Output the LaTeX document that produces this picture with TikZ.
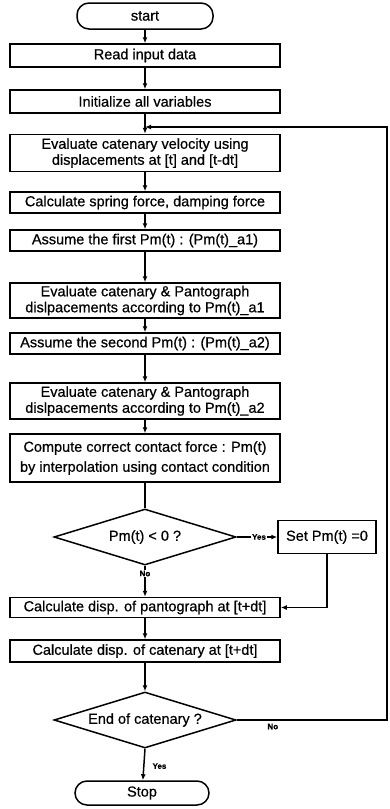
\documentclass[tikz,border=0pt]{standalone}
\usepackage{fontspec}
\setmainfont{Liberation Sans}
\newfontfamily\chartfont[FakeBold=0.6]{Liberation Sans}
\usetikzlibrary{arrows.meta,shapes.geometric}

\begin{document}
\begin{tikzpicture}[x=1pt, y=-1pt, line width=1.5pt, >={Latex[length=6pt,width=5pt]},
	every node/.style={font=\chartfont\fontsize{14.5}{16}\selectfont},
	procbox/.style={draw, minimum width=270, inner sep=1pt, align=center},
	termbox/.style={draw, rounded corners=12pt, minimum width=136, minimum height=26},
	decbox/.style={draw, diamond, aspect=3.3, inner sep=0pt, minimum width=182, minimum height=56},
	tag/.style={font=\chartfont\fontsize{8}{9}\selectfont\bfseries, inner sep=1pt}]
	\useasboundingbox (0,0) rectangle (389,809);
	% main column
	\node[termbox] (start) at (145,16) {start};
	\node[procbox, minimum height=23] (read) at (145,55.5) {Read input data};
	\node[procbox, minimum height=23] (init) at (145,101.5) {Initialize all variables};
	\node[procbox, minimum height=37] (evalv) at (145,153) {Evaluate catenary velocity using\\displacements at [t] and [t-dt]};
	\node[procbox, minimum height=21] (spring) at (145,202.5) {Calculate spring force, damping force};
	\node[procbox, minimum height=21] (assumeA) at (145,240.5) {Assume the first Pm(t) : (Pm(t)\_a1)};
	\node[procbox, minimum height=35] (evalA) at (145,300.5) {Evaluate catenary \& Pantograph\\dislpacements according to Pm(t)\_a1};
	\node[procbox, minimum height=21] (assumeB) at (145,343.5) {Assume the second Pm(t) : (Pm(t)\_a2)};
	\node[procbox, minimum height=36] (evalB) at (145,401) {Evaluate catenary \& Pantograph\\dislpacements according to Pm(t)\_a2};
	\node[procbox, minimum height=48] (compute) at (145,458) {Compute correct contact force : Pm(t)\\[4pt]by interpolation using contact condition};
	\node[decbox] (negtest) at (145,537) {Pm(t) < 0 ?};
	\node[draw, minimum width=98, minimum height=33, inner sep=1pt] (setzero) at (327,537) {Set Pm(t) =0};
	\node[procbox, minimum height=20] (dispP) at (145,607.5) {Calculate disp. of pantograph at [t+dt]};
	\node[procbox, minimum height=22] (dispC) at (145,651) {Calculate disp. of catenary at [t+dt]};
	\node[decbox] (endtest) at (145,720) {End of catenary ?};
	\node[termbox, minimum width=134, minimum height=24] (stop) at (142,793) {Stop};
	% loop corners
	\coordinate (join) at (145,127);
	\coordinate (rtop) at (387,127);
	\coordinate (rbot) at (387,720);
	% connectors
	\draw[->] (start) -- (read);
	\draw[->] (read) -- (init);
	\draw[->] (init) -- (evalv);
	\draw[->] (evalv) -- (spring);
	\draw[->] (spring) -- (assumeA);
	\draw[->] (assumeA) -- (evalA);
	\draw[->] (evalA) -- (assumeB);
	\draw[->] (assumeB) -- (evalB);
	\draw[->] (evalB) -- (compute);
	\draw (compute) -- (negtest);
	\draw[->] (negtest.east) -- node[tag, fill=white, pos=0.55] {Yes} (setzero);
	\draw[->] (negtest.south) -- node[tag, fill=white, pos=0.25] {No} (dispP);
	\draw[->] (setzero.south) |- (dispP.east);
	\draw[->] (dispP) -- (dispC);
	\draw[->] (dispC) -- (endtest);
	\draw[->] (endtest.south) -- node[tag, right, pos=0.55, xshift=7] {Yes} (stop);
	\draw[->] (endtest.east) -- node[tag, below, pos=0.24, yshift=-2] {No} (rbot) -- (rtop) -- (join);
\end{tikzpicture}
\end{document}
